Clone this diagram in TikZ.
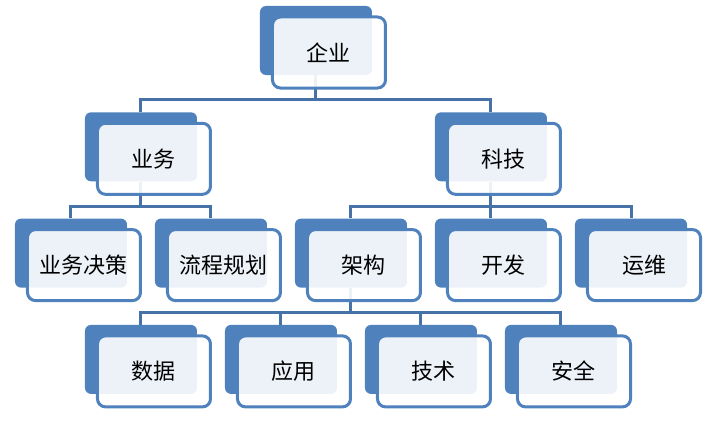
\documentclass[tikz,border=0pt]{standalone}
\usepackage{fontspec}
\newfontfamily\cjk{Noto Sans CJK SC}
\usetikzlibrary{trees}
\definecolor{boxblue}{HTML}{4F81BD}
\definecolor{lineblue}{HTML}{4672A8}

\begin{document}
\begin{tikzpicture}[x=1pt,y=1pt,
            level distance=106.3pt,
            level 1/.style={sibling distance=350pt},
            level 2/.style={sibling distance=140pt},
            level 3/.style={sibling distance=140pt},
            back/.style={fill=boxblue, rounded corners=6pt, minimum width=112pt, minimum height=69pt, inner sep=0pt},
            every child node/.style={back},
            front/.style={draw=boxblue, line width=3pt, fill=white, fill opacity=0.9, text opacity=1, rounded corners=8pt,
                minimum width=113pt, minimum height=71pt, inner sep=0pt, font=\cjk\fontsize{22}{26}\selectfont},
            edge from parent/.style={draw=lineblue, line width=3pt},
            edge from parent path={(\tikzparentnode.south) -- ++(0,-24.5pt) -| (\tikzchildnode.north)}]

            \useasboundingbox (-316,40.5) rectangle (397,-382.5);

            \node[back] (qy) {}
            child
            {
                node (yw) {}
                child {node (ywjc) {}}
                child {node (lcgh) {}}
            }
            child
            {
                node (kj) {}
                child
                {
                    node (jg) {}
                    child {node (sj) {}}
                    child {node (yy) {}}
                    child {node (js) {}}
                    child {node (aq) {}}
                }
                child {node (kf) {}}
                child {node (ywei) {}}
            };

            \foreach \n/\t in {qy/企业, yw/业务, kj/科技, ywjc/业务决策, lcgh/流程规划, jg/架构,
                               kf/开发, ywei/运维, sj/数据, yy/应用, js/技术, aq/安全}
                \node[front] at ([xshift=13pt,yshift=-12pt]\n.center) {\t};
        \end{tikzpicture}
\end{document}
